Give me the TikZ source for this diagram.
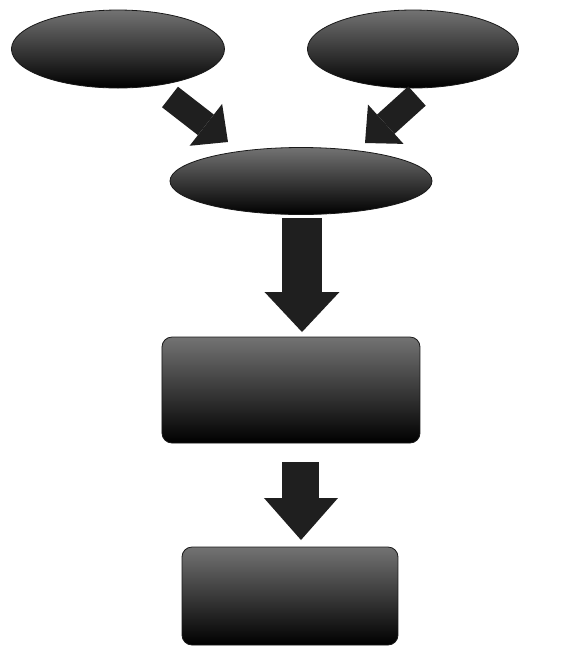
\documentclass[tikz,border=0pt]{standalone}
\usetikzlibrary{arrows.meta, shapes.geometric}

\begin{document}
\begin{tikzpicture}[
    x=0.5pt, y=-0.5pt,
    oval/.style ={ellipse, inner sep=0pt, top color=black!55,
                  bottom color=black, draw=black!90, thin},
    blk/.style  ={rectangle, rounded corners=5pt, inner sep=0pt,
                  top color=black!55, bottom color=black, draw=black!90, thin},
    fat/.style  ={draw=black!88, line cap=butt},
]
\useasboundingbox (0,0) rectangle (571,650);
% inputs
\node[oval, minimum width=106.5pt, minimum height=39pt] (srcA) at (118,49) {};
\node[oval, minimum width=105.5pt, minimum height=39pt] (srcB) at (413,49) {};
% merge
\node[oval, minimum width=131pt, minimum height=33.5pt] (merge) at (301,181) {};
% steps
\node[blk, minimum width=129pt, minimum height=53pt] (stageA) at (291,390) {};
\node[blk, minimum width=108pt, minimum height=49pt] (stageB) at (290,596) {};
% arrow ends
\coordinate (tailA) at (170,97);  \coordinate (tipA) at (228,142);
\coordinate (tailB) at (417,96);  \coordinate (tipB) at (365,143);
\coordinate (tailC) at (302,218); \coordinate (tipC) at (302,332);
\coordinate (tailD) at (301,462); \coordinate (tipD) at (301,540);
% block arrows
\draw[fat, line width=13pt,
      -{Triangle[width=26.5pt, length=14pt, line width=0pt]}] (tailA) -- (tipA);
\draw[fat, line width=13pt,
      -{Triangle[width=26.5pt, length=14pt, line width=0pt]}] (tailB) -- (tipB);
\draw[fat, line width=20pt,
      -{Triangle[width=37.5pt, length=20pt, line width=0pt]}] (tailC) -- (tipC);
\draw[fat, line width=18.5pt,
      -{Triangle[width=37pt, length=21pt, line width=0pt]}] (tailD) -- (tipD);
\end{tikzpicture}
\end{document}
